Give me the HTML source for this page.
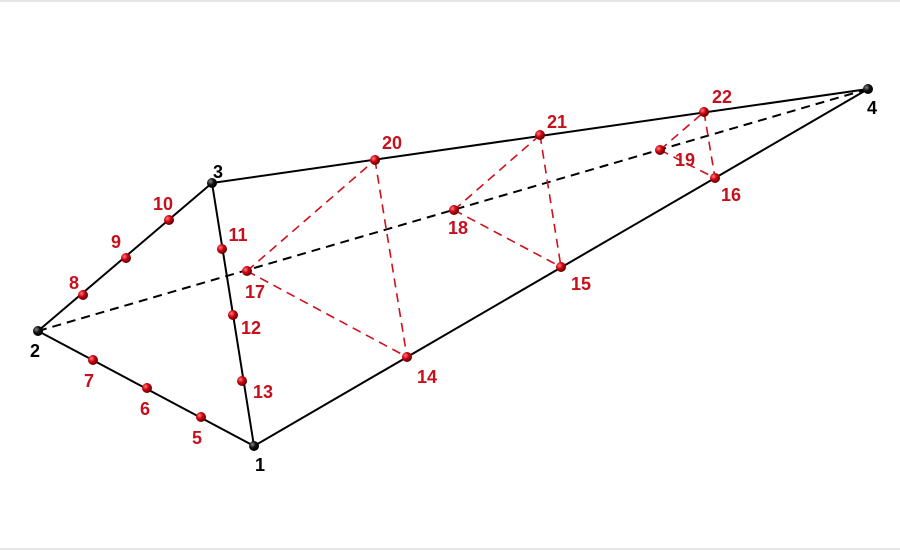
<!DOCTYPE html>
<html><head><meta charset="utf-8"><style>
html,body{margin:0;padding:0;background:#fff}
svg{display:block}
text{font-family:"Liberation Sans",sans-serif;font-weight:bold;font-size:18px}
</style></head><body>
<svg id="chart" width="900" height="551" viewBox="0 0 900 551">
<defs>
<radialGradient id="gr" cx="35%" cy="35%" r="65%"><stop offset="0" stop-color="#ff8080"/><stop offset="0.5" stop-color="#d00010"/><stop offset="1" stop-color="#600000"/></radialGradient>
<radialGradient id="gb" cx="35%" cy="35%" r="65%"><stop offset="0" stop-color="#888"/><stop offset="0.5" stop-color="#111"/><stop offset="1" stop-color="#000"/></radialGradient>
</defs>
<line x1="0" y1="1" x2="900" y2="1" stroke="#ccc"/>
<line x1="0" y1="549" x2="900" y2="549" stroke="#ccc"/>
<g id="edges"></g><g id="nodes"></g>
</svg>
<script>
const nodeIds=[1,2,3,4,5,6,7,8,9,10,11,12,13,14,15,16,17,18,19,20,21,22];
const nodeX=[254,38,212,868,201,147,93,83,126,169,222,233,242,407,561,715,247,454,660,375,540,704];
const nodeY=[446,331,183,89,417,388,360,295,258,220,249,315,381,357,267,178,271,210,150,160,135,112];
const labelDX=[6,-3,6,4,-4,-2,-4,-9,-10,-6,16,18,21,20,20,16,8,4,25,17,17,18];
const labelDY=[19,20,-11,19,21,21,21,-12,-16,-16,-14,13,11,20,17,17,21,18,10,-17,-13,-15];
const solidEdges=[[1,2],[1,3],[2,3],[3,4],[1,4]];
const dashedEdges=[[2,4]];
const redEdges=[[17,20],[20,14],[17,14],[18,21],[21,15],[18,15],[19,22],[22,16],[19,16]];
const NS="http://www.w3.org/2000/svg";
const eg=document.getElementById('edges'),ng=document.getElementById('nodes');
function px(id){return nodeX[nodeIds.indexOf(id)];}
function py(id){return nodeY[nodeIds.indexOf(id)];}
function addEdges(list,color,dash,w,kind){
  list.forEach(e=>{
    const l=document.createElementNS(NS,'line');
    l.setAttribute('x1',px(e[0]));l.setAttribute('y1',py(e[0]));
    l.setAttribute('x2',px(e[1]));l.setAttribute('y2',py(e[1]));
    l.setAttribute('stroke',color);l.setAttribute('stroke-width',w);
    if(dash)l.setAttribute('stroke-dasharray',dash);
    
    
    eg.appendChild(l);
  });
}
addEdges(solidEdges,'#000',null,2,'solid');
addEdges(dashedEdges,'#000','9,6',2,'hidden');
addEdges(redEdges,'#d0101c','9,6',1.6,'red');
nodeIds.forEach((id,i)=>{
  const corner=id<=4;
  const c=document.createElementNS(NS,'circle');
  c.setAttribute('cx',nodeX[i]);c.setAttribute('cy',nodeY[i]);c.setAttribute('r',5);
  c.setAttribute('fill',corner?'url(#gb)':'url(#gr)');
  
  
  ng.appendChild(c);
  const t=document.createElementNS(NS,'text');
  t.setAttribute('x',nodeX[i]+labelDX[i]);t.setAttribute('y',nodeY[i]+labelDY[i]+6);
  t.setAttribute('text-anchor','middle');
  t.setAttribute('fill',corner?'#000':'#c8101c');
  t.textContent=id;
  
  
  ng.appendChild(t);
});
</script>
</body></html>
